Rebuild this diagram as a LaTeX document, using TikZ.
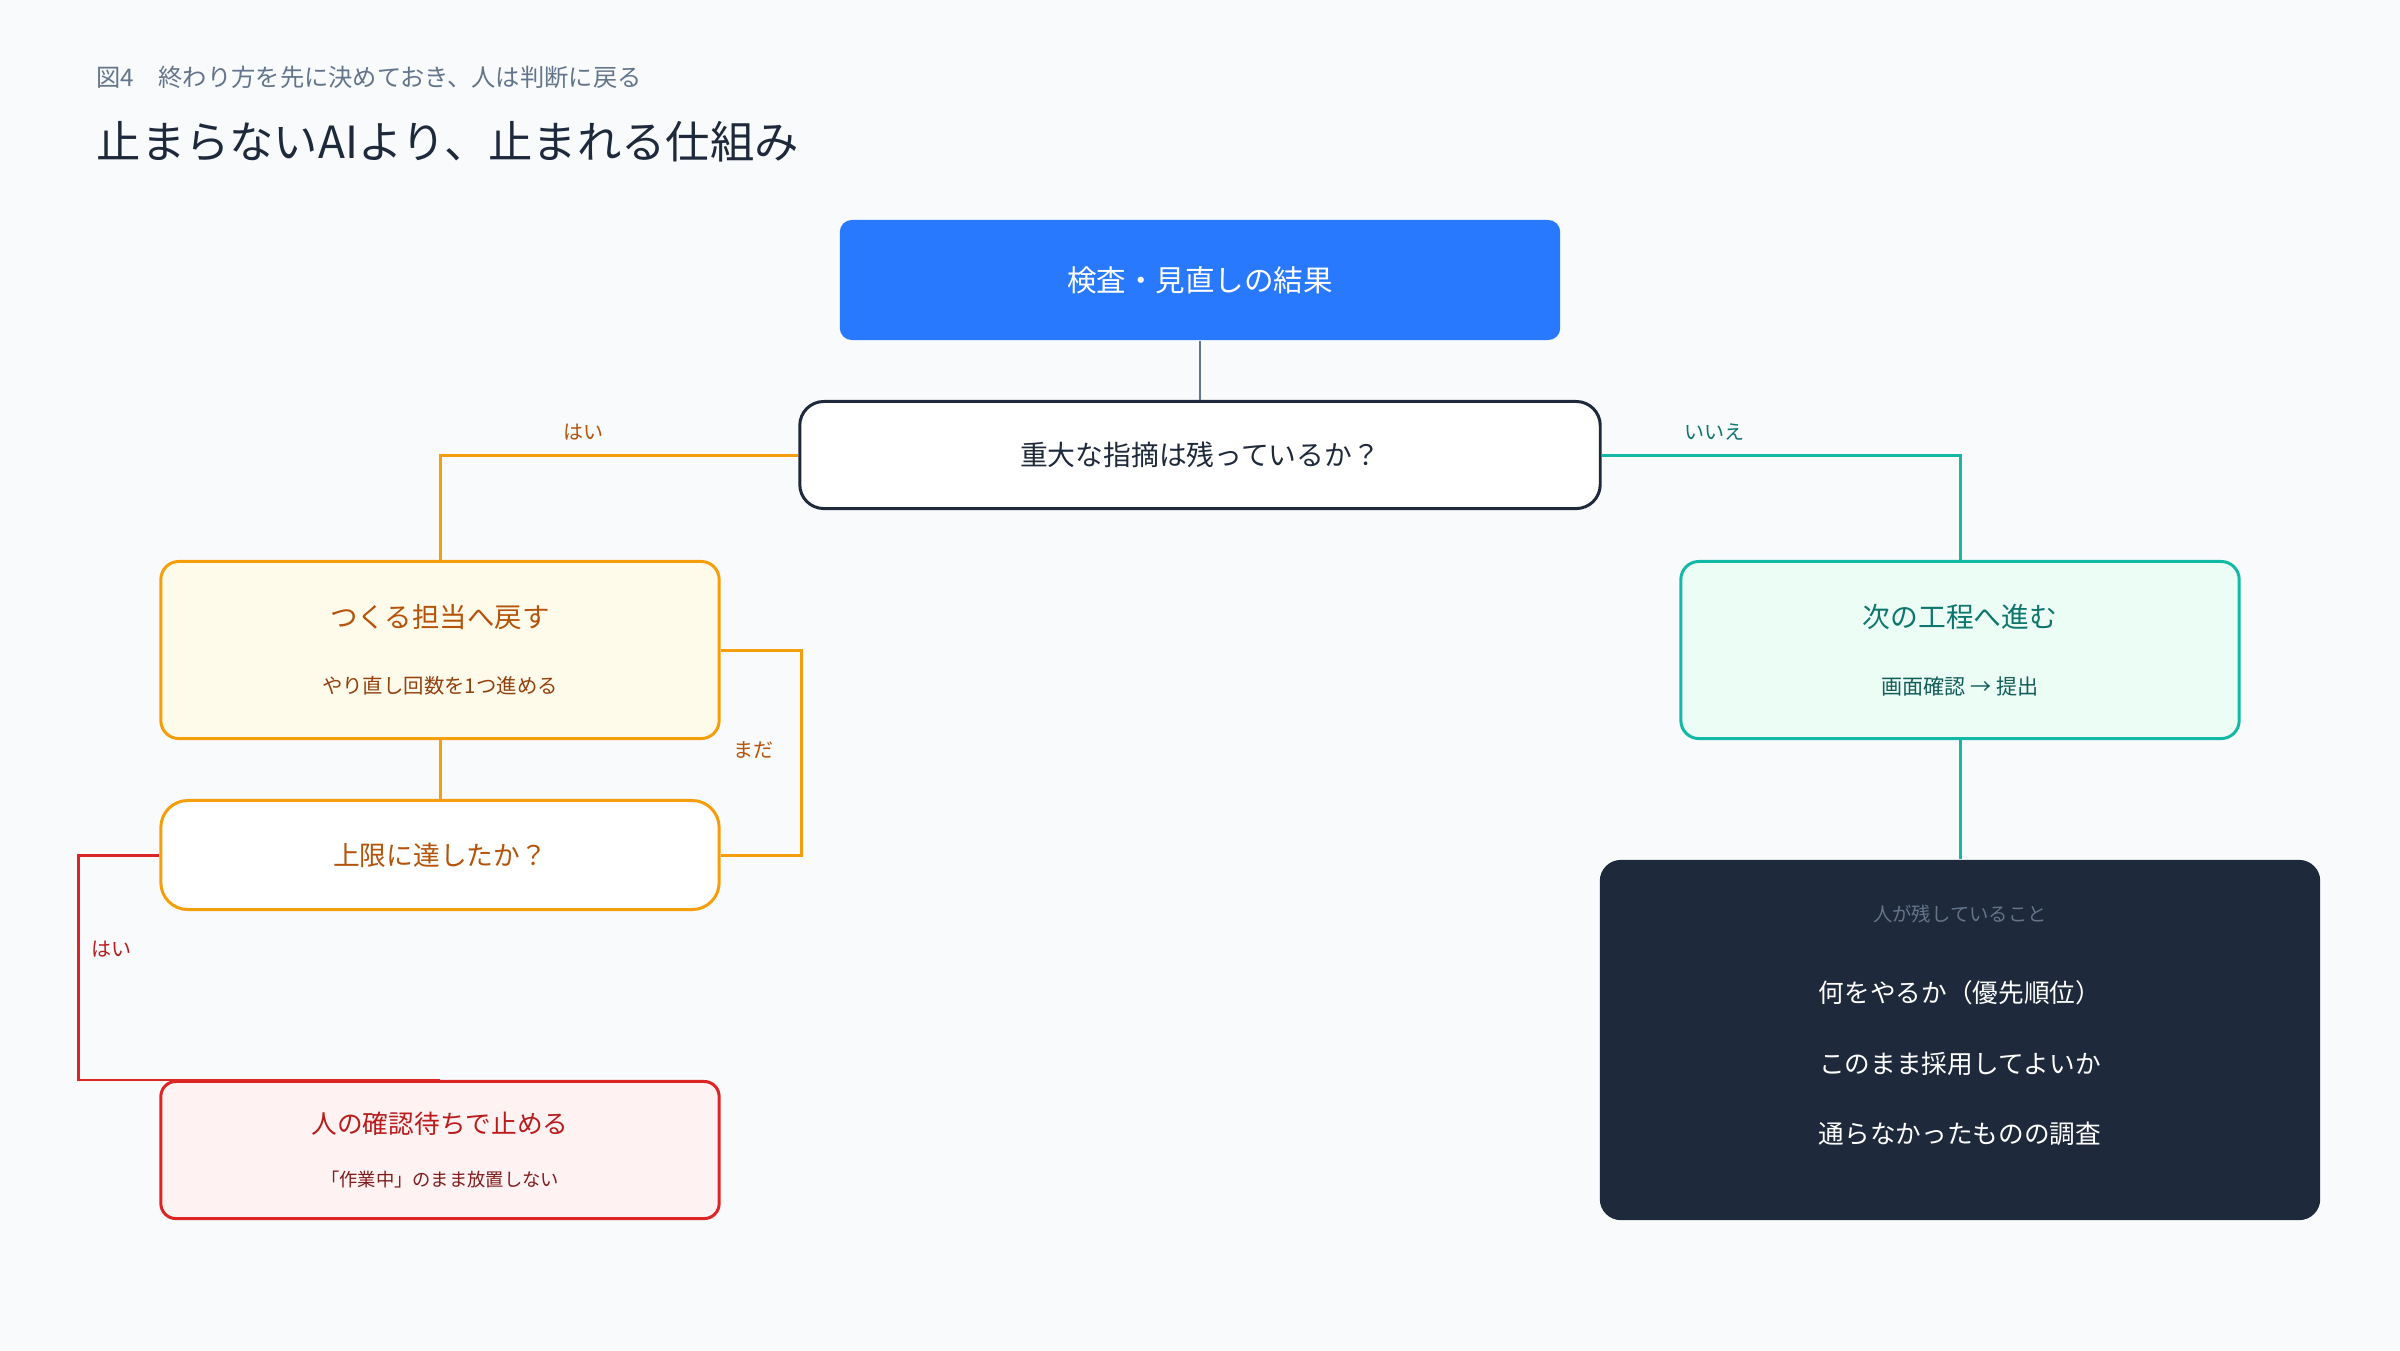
\documentclass[tikz,border=0pt]{standalone}
\usepackage{fontspec}
\setmainfont{Noto Sans CJK JP}
\definecolor{bg}{HTML}{F8FAFC}
\definecolor{ink}{HTML}{1E293B}
\definecolor{slate}{HTML}{64748B}
\definecolor{blueFill}{HTML}{2979FF}
\definecolor{amber}{HTML}{F59E0B}
\definecolor{amberText}{HTML}{B45309}
\definecolor{amberSub}{HTML}{92400E}
\definecolor{amberFill}{HTML}{FFFBEB}
\definecolor{alarm}{HTML}{DC2626}
\definecolor{alarmText}{HTML}{B91C1C}
\definecolor{alarmSub}{HTML}{7F1D1D}
\definecolor{alarmFill}{HTML}{FEF2F2}
\definecolor{teal}{HTML}{14B8A6}
\definecolor{tealText}{HTML}{0F766E}
\definecolor{tealSub}{HTML}{115E59}
\definecolor{tealFill}{HTML}{ECFDF5}
\begin{document}
\begin{tikzpicture}[x=0.01cm,y=-0.01cm]
\tikzstyle{head text}=[inner sep=0,anchor=west]
\tikzstyle{branch label}=[inner sep=1pt,font=\fontsize{5.7}{7}\selectfont]
\tikzset{
	blue node/.style={rectangle,rounded corners=0.12cm,fill=blueFill,text=white,minimum width=7.2cm,minimum height=1.2cm,font=\fontsize{8.4}{10}\selectfont},
	ask node/.style={rectangle,rounded corners=0.24cm,draw=ink,line width=0.85pt,fill=white,text=ink,minimum width=8cm,minimum height=1.07cm,font=\fontsize{7.9}{10}\selectfont},
	amber node/.style={rectangle,rounded corners=0.18cm,draw=amber,line width=0.85pt,fill=amberFill,text=amberText,align=center,minimum width=5.58cm,minimum height=1.77cm,font=\fontsize{7.8}{18.8}\selectfont},
	limit node/.style={rectangle,rounded corners=0.27cm,draw=amber,line width=0.85pt,fill=white,text=amberText,minimum width=5.58cm,minimum height=1.09cm,font=\fontsize{7.6}{10}\selectfont},
	alarm node/.style={rectangle,rounded corners=0.15cm,draw=alarm,line width=0.85pt,fill=alarmFill,text=alarmText,align=center,minimum width=5.58cm,minimum height=1.37cm,font=\fontsize{7.3}{15}\selectfont},
	teal node/.style={rectangle,rounded corners=0.18cm,draw=teal,line width=0.85pt,fill=tealFill,text=tealText,align=center,minimum width=5.58cm,minimum height=1.77cm,font=\fontsize{7.9}{19.2}\selectfont},
	dark node/.style={rectangle,rounded corners=0.21cm,fill=ink,minimum width=7.2cm,minimum height=3.6cm}
}
\fill[bg] (0,0) rectangle (2400,1350);
% headings
\node[head text,text=slate,font=\fontsize{6.9}{8}\selectfont] (caption) at (96,77) {図4　終わり方を先に決めておき、人は判断に戻る};
\node[head text,text=ink,font=\fontsize{12.6}{15}\selectfont] (title) at (96,142) {止まらないAIより、止まれる仕組み};
% boxes
\node[blue node] (review) at (1200,280) {検査・見直しの結果};
\node[ask node] (ask) at (1200,455) {重大な指摘は残っているか？};
\node[amber node] (redo) at (440,650) {つくる担当へ戻す\\{\color{amberSub}\fontsize{5.8}{7}\selectfont やり直し回数を1つ進める}};
\node[limit node] (limit) at (440,855) {上限に達したか？};
\node[alarm node] (halt) at (440,1150) {人の確認待ちで止める\\{\color{alarmSub}\fontsize{5.2}{7}\selectfont 「作業中」のまま放置しない}};
\node[teal node] (next) at (1960,650) {次の工程へ進む\\{\color{tealSub}\fontsize{6}{7}\selectfont 画面確認 → 提出}};
\node[dark node] (human) at (1960,1040) {};
\node[align=center,inner sep=0,text=white,font=\fontsize{7.3}{20}\selectfont] (humanlist) at (1960,1025.5)
	{{\color{slate}\fontsize{5.5}{7}\selectfont 人が残していること}\\[3.05pt]
	何をやるか（優先順位）\\
	このまま採用してよいか\\
	通らなかったものの調査};
% connectors
\draw[slate,line width=0.6pt] (review.south) -- (ask.north);
\draw[amber,line width=0.85pt] (ask.west) -| node[branch label,pos=0.3,above=0.1cm,text=amberText] (yesleft) {はい} (redo.north);
\draw[teal,line width=0.85pt] (ask.east) -| node[branch label,pos=0.157,above=0.1cm,text=tealText] (noright) {いいえ} (next.north);
\draw[amber,line width=0.85pt] (redo.south) -- (limit.north);
\draw[amber,line width=0.85pt] (limit.east) -- ++(81,0) |- node[branch label,pos=0.256,left=0.23cm,text=amberText] (notyet) {まだ} (redo.east);
\draw[alarm,line width=0.85pt] (limit.west) -- ++(-81,0) |- node[branch label,pos=0.21,right=0.08cm,text=alarmText] (yesstop) {はい} (halt.north);
\draw[teal,line width=0.85pt] (next.south) -- (human.north);
\end{tikzpicture}
\end{document}
